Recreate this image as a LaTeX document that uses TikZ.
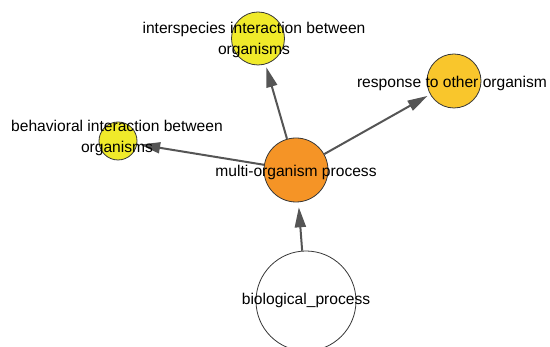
\documentclass[tikz,border=0pt]{standalone}
\usepackage{fontspec}
\setmainfont{Liberation Sans}
\usetikzlibrary{arrows.meta}
\definecolor{orangeN}{RGB}{245,148,38}
\definecolor{yellowN}{RGB}{240,234,42}
\definecolor{goldN}{RGB}{249,198,44}
\definecolor{edgeC}{RGB}{85,85,85}
\definecolor{borderC}{RGB}{55,55,55}
\tikzset{
  term/.style={circle, draw=borderC, line width=0.8pt, inner sep=0pt},
  lab/.style={font=\fontsize{15.6}{21}\selectfont, text=black, align=center, inner sep=0pt},
  link/.style={draw=edgeC, line width=2pt, -{Triangle[length=20pt,width=11pt]}, shorten >=3pt}
}
\begin{document}
\begin{tikzpicture}[x=1pt,y=-1pt]
\useasboundingbox (0,0) rectangle (550,347);
\clip (0,0) rectangle (550,347);
% circles
\node[term, fill=orangeN, minimum size=64pt] (multi) at (296,170) {};
\node[term, fill=yellowN, minimum size=53pt] (inter) at (258,38.5) {};
\node[term, fill=goldN, minimum size=54pt] (resp) at (454,81) {};
\node[term, fill=yellowN, minimum size=38pt] (behav) at (118,141) {};
\node[term, fill=white, minimum size=100pt] (bio) at (306,301) {};
% edges
\draw[link] (multi) -- (inter);
\draw[link] (multi) -- (resp);
\draw[link] (multi) -- (behav);
\draw[link, shorten >=5pt] (bio) -- (multi);
% labels
\node[lab] (multiL) at (296,172) {multi-organism process};
\node[lab] (interL) at (254,40) {interspecies interaction between\\organisms};
\node[lab] (respL) at (452,83) {response to other organism};
\node[lab] (behavL) at (117,138) {behavioral interaction between\\organisms};
\node[lab] (bioL) at (306,300) {biological\_process};
\end{tikzpicture}
\end{document}
